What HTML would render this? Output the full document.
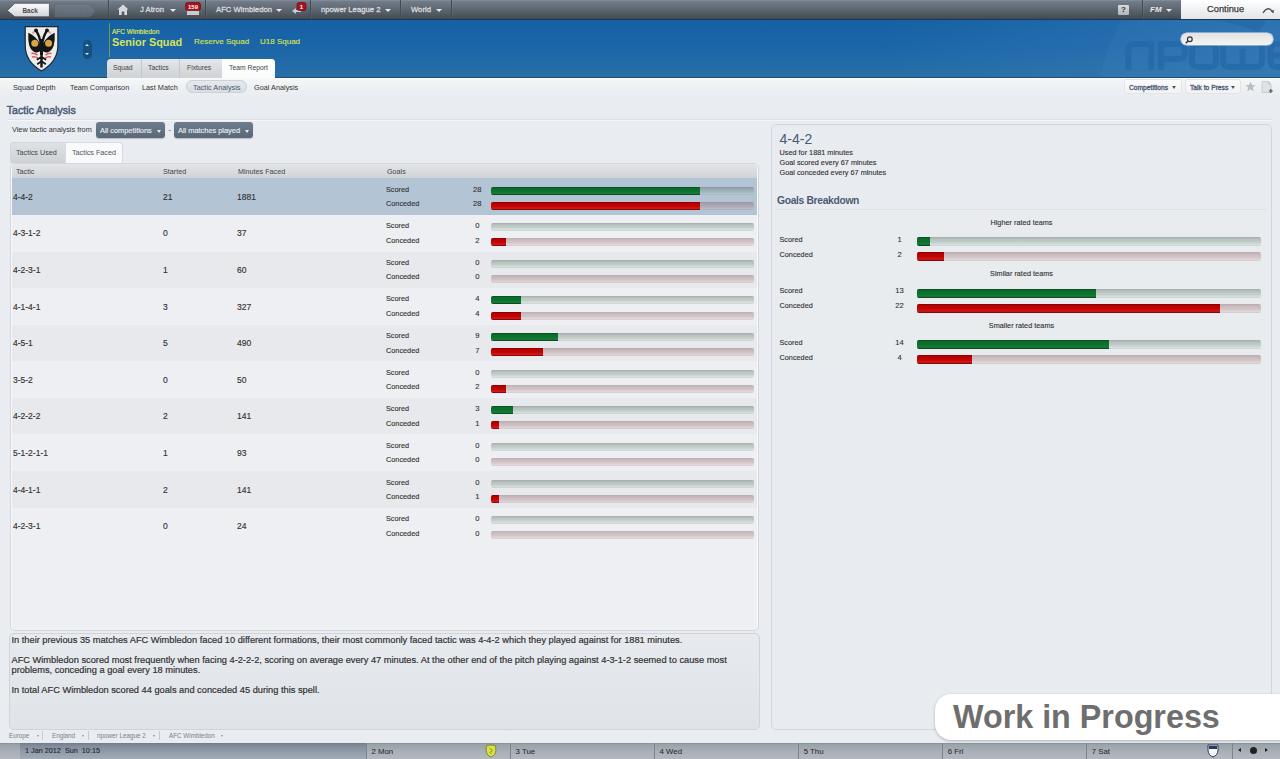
<!DOCTYPE html><html><head><meta charset="utf-8"><style>
*{margin:0;padding:0;box-sizing:border-box}
html,body{width:1280px;height:759px;overflow:hidden;background:#e9ecf0;font-family:"Liberation Sans",sans-serif;color:#333}
.a{position:absolute}
.t{position:absolute;white-space:nowrap;line-height:12px}
#top{left:0;top:0;width:1280px;height:20px;background:linear-gradient(#8994a0 0,#727c88 7%,#5f6873 45%,#49515a 88%,#424951 100%);border-bottom:1px solid #1b3850}
.sep{position:absolute;top:0;width:1px;height:19px;background:#434a52;box-shadow:1px 0 0 rgba(255,255,255,.05)}
.tb{color:#d9dbde;font-size:7.7px;-webkit-text-stroke:0.3px #d9dbde}
.tri{position:absolute;width:0;height:0;border-left:3px solid transparent;border-right:3px solid transparent;border-top:3px solid #e8e8e8}
#hdr{left:0;top:20px;width:1280px;height:58px;background:linear-gradient(#1561a3,#1c66a8 50%,#286fa7);border-bottom:1px solid #1f4d76}
#sub{left:0;top:78px;width:1280px;height:18px;background:linear-gradient(#fafdfe 0,#f3f5f7 10%,#eceff2 70%,#e9ecf0 100%)}
.sn{font-size:7.3px;color:#333}
.panel{position:absolute;border:1px solid #cfd3d8;border-radius:5px;background:#eaedf0}
.row{position:absolute;left:0;width:745px;height:37px}
.cell{position:absolute;white-space:nowrap;font-size:7.3px;line-height:10px;color:#333;-webkit-text-stroke:0.12px #333}
.bar{position:absolute;height:8px;border-radius:2px;overflow:hidden}
.bg{background:linear-gradient(rgba(80,90,90,.45) 0%,rgba(110,130,120,.4) 25%,rgba(120,150,135,.36) 55%,rgba(170,195,180,.3) 85%,rgba(140,150,150,.35) 100%)}
.br{background:linear-gradient(rgba(110,85,90,.42) 0%,rgba(150,105,108,.38) 25%,rgba(165,120,122,.35) 55%,rgba(205,165,168,.3) 85%,rgba(160,130,135,.35) 100%)}
.fg{position:absolute;left:0;top:0;height:100%;background:linear-gradient(#07451c 0%,#0b6a2a 16%,#0d7330 55%,#1a7d3a 80%,#053816 100%)}
.fr{position:absolute;left:0;top:0;height:100%;background:linear-gradient(#7e0000 0%,#b60000 18%,#c60303 55%,#d21a1a 80%,#6a0000 100%)}
#bot{left:0;top:743px;width:1280px;height:16px;background:linear-gradient(#858d95 0,#9aa2aa 10%,#a9b0b7 55%,#b3b8bf 100%)}
.day{position:absolute;top:743px;height:16px;border-left:1px solid #7d838a;font-size:7.8px;line-height:17.5px;padding-left:4.5px;color:#2a2a2a;-webkit-text-stroke:0.05px #2a2a2a}
</style></head><body>
<div id="top" class="a"></div>
<svg class="a" style="left:6px;top:1.6px" width="46" height="17" viewBox="0 0 46 17">
<defs><linearGradient id="gb" x1="0" y1="0" x2="0" y2="1"><stop offset="0" stop-color="#fdfdfd"/><stop offset="1" stop-color="#d0d3d7"/></linearGradient>
<linearGradient id="gf" x1="0" y1="0" x2="0" y2="1"><stop offset="0" stop-color="#6f7a86"/><stop offset="1" stop-color="#5c6671"/></linearGradient></defs>
<path d="M1.3 8.6 L8.8 1.3 H42.6 Q43.4 1.3 43.4 2.2 V14 Q43.4 14.8 42.6 14.8 H8.8 Z" fill="url(#gb)" stroke="#3e4248" stroke-width="0.7"/>
</svg>
<div class="t" style="left:22.5px;top:5px;font-size:6.4px;font-weight:bold;color:#4a4a4a">Back</div>
<svg class="a" style="left:53px;top:2px" width="46" height="17" viewBox="0 0 46 17">
<path d="M2.5 2 H36 Q37 2 38 3 L42.5 8.5 L38 14 Q37 15 36 15 H2.5 Q1.5 15 1.5 14 V3 Q1.5 2 2.5 2 Z" fill="url(#gf)" stroke="#58616b" stroke-width="0.5"/></svg>
<div class="t" style="left:60.5px;top:5px;font-size:6.4px;font-weight:bold;color:#6a7480">Forward</div>
<div class="sep" style="left:108px"></div>
<div class="sep" style="left:205px"></div>
<div class="sep" style="left:310px"></div>
<div class="sep" style="left:400px"></div>
<div class="sep" style="left:451px"></div>
<div class="sep" style="left:1142px"></div>
<svg class="a" style="left:117px;top:4px" width="12" height="12" viewBox="0 0 12 12"><path d="M6 0.5 L11.5 5.5 H10 V11 H7.3 V7.5 H4.7 V11 H2 V5.5 H0.5 Z" fill="#d6d8db"/></svg>
<div class="t tb" style="left:140px;top:4px">J Atron</div>
<div class="tri" style="left:170px;top:9px"></div>
<svg class="a" style="left:185px;top:2px" width="16" height="14" viewBox="0 0 16 14"><rect x="2" y="7" width="12" height="6" fill="#c9cbce"/><rect x="0.5" y="0.5" width="15" height="8" rx="2" fill="#a8121a" stroke="#5e0a0c" stroke-width="0.6"/><text x="8" y="7" font-size="6" font-weight="bold" fill="#fff" text-anchor="middle" font-family="Liberation Sans">159</text></svg>
<div class="t tb" style="left:216px;top:4px">AFC Wimbledon</div>
<div class="tri" style="left:276px;top:9px"></div>
<svg class="a" style="left:291px;top:2px" width="16" height="15" viewBox="0 0 16 15"><path d="M1 9 L5 6 V8 H10 V10 H5 V12 Z" fill="#c9cbce"/><rect x="6" y="0.5" width="9" height="8" rx="2" fill="#a8121a" stroke="#5e0a0c" stroke-width="0.6"/><text x="10.5" y="7" font-size="6" font-weight="bold" fill="#fff" text-anchor="middle" font-family="Liberation Sans">1</text></svg>
<div class="t tb" style="left:321px;top:4px">npower League 2</div>
<div class="tri" style="left:385px;top:9px"></div>
<div class="t tb" style="left:411px;top:4px">World</div>
<div class="tri" style="left:436px;top:9px"></div>
<div class="a" style="left:1118px;top:5px;width:11px;height:10px;background:linear-gradient(#d8dadc,#b2b5b9);border-radius:1px;font-size:8px;font-weight:bold;color:#333;text-align:center;line-height:10px">?</div>
<div class="t" style="left:1150px;top:4px;font-size:8px;font-weight:bold;font-style:italic;color:#e8e8e8">FM</div>
<div class="tri" style="left:1166px;top:9px"></div>
<div class="a" style="left:1181px;top:0;width:99px;height:19px;background:linear-gradient(#ffffff,#e3e5e8)"></div>
<div class="t" style="left:1207px;top:3px;font-size:9.3px;color:#3c3c3c;-webkit-text-stroke:0.25px #3c3c3c">Continue</div>
<svg class="a" style="left:1261px;top:5px" width="14" height="10" viewBox="0 0 14 10"><path d="M2 8 Q7 0 12 7" fill="none" stroke="#555" stroke-width="1.4"/><path d="M9.5 6 L12.5 8.5 L13 5 Z" fill="#555"/></svg>
<div id="hdr" class="a"></div>
<div class="a" style="left:650px;top:20px;width:630px;height:57px;background:radial-gradient(ellipse 400px 120px at 100% 30%,rgba(80,140,200,.35),rgba(80,140,200,0))"></div>
<svg class="a" style="left:1080px;top:20px" width="200" height="57" viewBox="0 0 200 57">
<circle cx="220" cy="100" r="204.6" fill="rgba(120,170,220,0.07)"/>
<g fill="none" stroke="#1f62a3" stroke-opacity="0.55" stroke-width="5.8" stroke-linejoin="round">
<path d="M48.3 50 V30 Q48.3 24.1 54.5 24.1 H71.2 V50"/>
<path d="M81 50 V24.1 H98.5 Q104.8 24.1 104.8 30.5 V32.5 Q104.8 39 98.5 39 H81"/>
<path d="M118 24.1 H130 Q136 24.1 136 30.5 V40.5 Q136 47 130 47 H118 Q112 47 112 40.5 V30.5 Q112 24.1 118 24.1 Z"/>
<path d="M143 21 V40.5 Q143 47 149.5 47 H175.5 Q182 47 182 40.5 V21 M162.5 29 V47"/>
<path d="M190.5 35.5 H214 V30.5 Q214 24.1 207.5 24.1 H197 Q190.5 24.1 190.5 30.5 V40.5 Q190.5 47 197 47 H214"/>
</g>
<path d="M136 0 Q160 4 178 12 L186 3 L184 0 Z" fill="#1f62a3" fill-opacity="0.45"/>
</svg>
<div class="a" style="left:1181px;top:33.3px;width:92px;height:12px;border-radius:6px;background:linear-gradient(#e2e2e2,#f4f4f4);box-shadow:0 0 0 0.6px #dfe5ea"></div>
<svg class="a" style="left:1184px;top:35px" width="10" height="10" viewBox="0 0 10 10"><circle cx="5.8" cy="4.2" r="2.4" fill="none" stroke="#333" stroke-width="1.2"/><path d="M4 6 L1.8 8.3" stroke="#333" stroke-width="1.5"/></svg>
<svg class="a" style="left:20px;top:22px" width="44" height="52" viewBox="0 0 44 52">
<path d="M5.2 4.6 H37.9 V23.5 Q37.9 39.5 21.5 49 Q5.2 39.5 5.2 23.5 Z" fill="#ececeb" stroke="#1b2838" stroke-width="1.2"/>
<path d="M12.5 11.5 Q14 8.5 17 9.5 M30.5 11.5 Q29 8.5 26 9.5" stroke="#d9a0a0" stroke-width="1.8" fill="none"/>
<path d="M20.8 21 Q19.5 14 16.3 8.6 M22.2 21 Q23.5 14 26.7 8.6" stroke="#151515" stroke-width="2.4" fill="none"/>
<circle cx="16" cy="8.3" r="1.9" fill="#151515"/><circle cx="27" cy="8.3" r="1.9" fill="#151515"/>
<path d="M20.5 22 Q15 13.5 8.3 10.8 Q7.8 18 9.3 23.5 Q11 28.8 15 30.2 Q18 31 20.5 29 Z" fill="#151515"/>
<path d="M22.5 22 Q28 13.5 34.7 10.8 Q35.2 18 33.7 23.5 Q32 28.8 28 30.2 Q25 31 22.5 29 Z" fill="#151515"/>
<rect x="20" y="17" width="3" height="16" fill="#151515"/>
<circle cx="14.8" cy="21.2" r="3.5" fill="#d4a646"/><circle cx="28.6" cy="21.2" r="3.5" fill="#d4a646"/>
<path d="M11.5 31.5 Q14.5 30.8 17.5 33.2 M12 35 Q15 34 18 36.2 M31.5 31.5 Q28.5 30.8 25.5 33.2 M31 35 Q28 34 25 36.2" stroke="#d86060" stroke-width="1.5" fill="none"/>
<path d="M21.5 30 V45.5" stroke="#151515" stroke-width="2.4"/>
<path d="M21.5 35 L16.8 37.8 M21.5 35 L26.2 37.8 M21.5 39.2 L17.2 42.3 M21.5 39.2 L25.8 42.3" stroke="#151515" stroke-width="1.7"/>
</svg>
<div class="a" style="left:83px;top:40px;width:9px;height:18.5px;border-radius:4.5px;background:#16507f"></div>
<div class="a" style="left:85px;top:43.8px;width:0;height:0;border-left:2.5px solid transparent;border-right:2.5px solid transparent;border-bottom:2.5px solid #cfe6f8"></div>
<div class="a" style="left:85px;top:52.6px;width:0;height:0;border-left:2.5px solid transparent;border-right:2.5px solid transparent;border-top:2.5px solid #cfe6f8"></div>
<div class="a" style="left:108.5px;top:23px;width:1px;height:34px;background:#6b9a55"></div>
<div class="t" style="left:112px;top:26.6px;font-size:6.5px;line-height:10px;color:#d6e35a;-webkit-text-stroke:0.2px #d6e35a">AFC Wimbledon</div>
<div class="t" style="left:112px;top:35.3px;font-size:10.9px;line-height:14px;font-weight:bold;color:#d6e35a">Senior Squad</div>
<div class="t" style="left:194px;top:36px;font-size:8px;line-height:11px;color:#d4e04e;-webkit-text-stroke:0.15px #d4e04e">Reserve Squad</div>
<div class="t" style="left:260px;top:36px;font-size:8px;line-height:11px;color:#d4e04e;-webkit-text-stroke:0.15px #d4e04e">U18 Squad</div>
<div class="a" style="left:107px;top:59px;width:168px;height:19px;border-radius:4px 4px 0 0;background:linear-gradient(#e4e6e9,#cfd2d6)"></div>
<div class="a" style="left:222px;top:59px;width:53px;height:20px;border-radius:0 4px 0 0;background:linear-gradient(#ffffff,#fafbfb)"></div>
<div class="a" style="left:141px;top:59px;width:1px;height:19px;background:#c4c7cb"></div>
<div class="a" style="left:179px;top:59px;width:1px;height:19px;background:#c4c7cb"></div>
<div class="t" style="left:113px;top:62px;font-size:6.8px;color:#444">Squad</div>
<div class="t" style="left:148px;top:62px;font-size:6.8px;color:#444">Tactics</div>
<div class="t" style="left:187px;top:62px;font-size:6.8px;color:#444">Fixtures</div>
<div class="t" style="left:229px;top:62px;font-size:6.8px;color:#444">Team Report</div>
<div id="sub" class="a"></div>
<div class="a" style="left:186px;top:80px;width:61px;height:13px;border-radius:7px;background:linear-gradient(#e6e9ed,#d9dde2);box-shadow:inset 0 0 0 1px #cdd2d8"></div>
<div class="t sn" style="left:13px;top:82px;color:#333">Squad Depth</div>
<div class="t sn" style="left:70px;top:82px;color:#333">Team Comparison</div>
<div class="t sn" style="left:142px;top:82px;color:#333">Last Match</div>
<div class="t sn" style="left:193px;top:82px;color:#4a5870">Tactic Analysis</div>
<div class="t sn" style="left:254px;top:82px;color:#333">Goal Analysis</div>
<div class="a" style="left:1125px;top:80px;width:56px;height:13px;border-radius:2px;background:linear-gradient(#fbfbfc,#f0f2f4);box-shadow:0 0 0 1px #e2e5e8"></div>
<div class="t" style="left:1129px;top:81.8px;font-size:6.7px;color:#4a5870;-webkit-text-stroke:0.3px #4a5870">Competitions</div>
<div class="a" style="left:1172px;top:86px;width:0;height:0;border-left:2.5px solid transparent;border-right:2.5px solid transparent;border-top:3px solid #555"></div>
<div class="a" style="left:1186px;top:80px;width:54px;height:13px;border-radius:2px;background:linear-gradient(#fbfbfc,#f0f2f4);box-shadow:0 0 0 1px #e2e5e8"></div>
<div class="t" style="left:1190px;top:81.8px;font-size:6.7px;color:#4a5870;-webkit-text-stroke:0.3px #4a5870">Talk to Press</div>
<div class="a" style="left:1231px;top:86px;width:0;height:0;border-left:2.5px solid transparent;border-right:2.5px solid transparent;border-top:3px solid #555"></div>
<svg class="a" style="left:1245px;top:81px" width="11" height="11" viewBox="0 0 13 13"><path d="M6.5 0.6 L8.2 4.6 L12.5 4.9 L9.2 7.7 L10.2 12 L6.5 9.7 L2.8 12 L3.8 7.7 L0.5 4.9 L4.8 4.6 Z" fill="#b9bdc3"/></svg>
<svg class="a" style="left:1261px;top:81px" width="13" height="13" viewBox="0 0 13 13"><path d="M1 0.5 H7.5 L10 3 V11.5 H1 Z" fill="#dfe2e6" stroke="#bfc3c8" stroke-width="0.8"/><path d="M7.5 0.5 V3 H10" fill="#c9cdd2" stroke="#bfc3c8" stroke-width="0.6"/><path d="M9.8 8 V12 M7.8 10 H11.8" stroke="#555" stroke-width="1.2"/></svg>
<div class="t" style="left:6.8px;top:104.2px;font-size:10.6px;color:#4a5a76;-webkit-text-stroke:0.45px #4a5a76">Tactic Analysis</div>
<div class="a" style="left:8px;top:119px;width:1264px;height:1px;background:#dcdfe3;box-shadow:0 1px 0 #f5f6f8"></div>
<div class="t sn" style="left:12px;top:124px">View tactic analysis from</div>
<div class="a" style="left:96px;top:122px;width:69px;height:16px;border-radius:3px;background:linear-gradient(#6e7d8e,#596777);box-shadow:0 1px 1px rgba(0,0,0,.2)"></div>
<div class="t" style="left:100px;top:124.9px;font-size:7.4px;color:#e8ecf0;-webkit-text-stroke:0.15px #e8ecf0">All competitions</div>
<div class="a" style="left:157px;top:129.6px;width:0;height:0;border-left:2.5px solid transparent;border-right:2.5px solid transparent;border-top:3px solid #e8eaee"></div>
<div class="a" style="left:174px;top:122px;width:79px;height:16px;border-radius:3px;background:linear-gradient(#6e7d8e,#596777);box-shadow:0 1px 1px rgba(0,0,0,.2)"></div>
<div class="t" style="left:178px;top:124.9px;font-size:7.4px;color:#e8ecf0;-webkit-text-stroke:0.15px #e8ecf0">All matches played</div>
<div class="a" style="left:245px;top:129.6px;width:0;height:0;border-left:2.5px solid transparent;border-right:2.5px solid transparent;border-top:3px solid #e8eaee"></div>
<div class="t sn" style="left:168.5px;top:124px">-</div>
<div class="a" style="left:10px;top:142px;width:113px;height:21px;border-radius:4px 4px 0 0;border:1px solid #d2d6da;border-bottom:none;background:linear-gradient(#dfe2e5,#cdd1d5)"></div>
<div class="a" style="left:65px;top:142px;width:58px;height:22px;border-radius:0 4px 0 0;border:1px solid #d8dbdf;border-bottom:none;background:#f9fafb"></div>
<div class="t" style="left:16px;top:146.7px;font-size:7.2px;color:#444">Tactics Used</div>
<div class="t" style="left:72px;top:146.7px;font-size:7.2px;color:#555">Tactics Faced</div>
<div class="panel" style="left:10px;top:163px;width:749px;height:468px;background:#edeff2;border-color:#d3d7db;box-shadow:inset 1px 0 0 #f8f9fa,inset -1px 0 0 #f8f9fa"></div>
<div class="a" style="left:12px;top:164px;width:745px;height:14px;border-radius:4px 4px 0 0;background:linear-gradient(#e3e5e8,#d0d3d7)"></div>
<div class="t" style="left:16px;top:167px;font-size:7.2px;line-height:10px;color:#444">Tactic</div>
<div class="t" style="left:163px;top:167px;font-size:7.2px;line-height:10px;color:#444">Started</div>
<div class="t" style="left:238px;top:167px;font-size:7.2px;line-height:10px;color:#444">Minutes Faced</div>
<div class="t" style="left:387px;top:167px;font-size:7.2px;line-height:10px;color:#444">Goals</div>
<div class="a" style="left:12px;top:178px;width:745px;height:37px;background:#b3c5d5"></div>
<div class="cell" style="left:13px;top:191.7px;font-size:8.5px;color:#333;-webkit-text-stroke:0.15px #333">4-4-2</div>
<div class="cell" style="left:163px;top:191.7px;font-size:8.5px;color:#333;-webkit-text-stroke:0.15px #333">21</div>
<div class="cell" style="left:237px;top:191.7px;font-size:8.5px;color:#333;-webkit-text-stroke:0.15px #333">1881</div>
<div class="cell" style="left:386px;top:184.5px">Scored</div>
<div class="cell" style="left:386px;top:199.1px">Conceded</div>
<div class="cell" style="left:457.3px;width:40px;text-align:center;font-size:7.6px;top:184.5px">28</div>
<div class="cell" style="left:457.3px;width:40px;text-align:center;font-size:7.6px;top:199.1px">28</div>
<div class="bar bg" style="left:491px;top:186.5px;width:262.8px"><div class="fg" style="width:209.0px"></div></div>
<div class="bar br" style="left:491px;top:201.7px;width:262.8px"><div class="fr" style="width:209.0px"></div></div>
<div class="a" style="left:12px;top:215px;width:745px;height:36px;background:#edeff2"></div>
<div class="cell" style="left:13px;top:228.3px;font-size:8.5px;color:#333;-webkit-text-stroke:0.15px #333">4-3-1-2</div>
<div class="cell" style="left:163px;top:228.3px;font-size:8.5px;color:#333;-webkit-text-stroke:0.15px #333">0</div>
<div class="cell" style="left:237px;top:228.3px;font-size:8.5px;color:#333;-webkit-text-stroke:0.15px #333">37</div>
<div class="cell" style="left:386px;top:221.1px">Scored</div>
<div class="cell" style="left:386px;top:235.7px">Conceded</div>
<div class="cell" style="left:457.3px;width:40px;text-align:center;font-size:7.6px;top:221.1px">0</div>
<div class="cell" style="left:457.3px;width:40px;text-align:center;font-size:7.6px;top:235.7px">2</div>
<div class="bar bg" style="left:491px;top:223.1px;width:262.8px"><div class="fg" style="width:0.0px"></div></div>
<div class="bar br" style="left:491px;top:238.3px;width:262.8px"><div class="fr" style="width:14.9px"></div></div>
<div class="a" style="left:12px;top:252px;width:745px;height:36px;background:#e7e9ec"></div>
<div class="cell" style="left:13px;top:265.0px;font-size:8.5px;color:#333;-webkit-text-stroke:0.15px #333">4-2-3-1</div>
<div class="cell" style="left:163px;top:265.0px;font-size:8.5px;color:#333;-webkit-text-stroke:0.15px #333">1</div>
<div class="cell" style="left:237px;top:265.0px;font-size:8.5px;color:#333;-webkit-text-stroke:0.15px #333">60</div>
<div class="cell" style="left:386px;top:257.7px">Scored</div>
<div class="cell" style="left:386px;top:272.3px">Conceded</div>
<div class="cell" style="left:457.3px;width:40px;text-align:center;font-size:7.6px;top:257.7px">0</div>
<div class="cell" style="left:457.3px;width:40px;text-align:center;font-size:7.6px;top:272.3px">0</div>
<div class="bar bg" style="left:491px;top:259.7px;width:262.8px"><div class="fg" style="width:0.0px"></div></div>
<div class="bar br" style="left:491px;top:274.9px;width:262.8px"><div class="fr" style="width:0.0px"></div></div>
<div class="a" style="left:12px;top:288px;width:745px;height:36px;background:#edeff2"></div>
<div class="cell" style="left:13px;top:301.6px;font-size:8.5px;color:#333;-webkit-text-stroke:0.15px #333">4-1-4-1</div>
<div class="cell" style="left:163px;top:301.6px;font-size:8.5px;color:#333;-webkit-text-stroke:0.15px #333">3</div>
<div class="cell" style="left:237px;top:301.6px;font-size:8.5px;color:#333;-webkit-text-stroke:0.15px #333">327</div>
<div class="cell" style="left:386px;top:294.4px">Scored</div>
<div class="cell" style="left:386px;top:309.0px">Conceded</div>
<div class="cell" style="left:457.3px;width:40px;text-align:center;font-size:7.6px;top:294.4px">4</div>
<div class="cell" style="left:457.3px;width:40px;text-align:center;font-size:7.6px;top:309.0px">4</div>
<div class="bar bg" style="left:491px;top:296.4px;width:262.8px"><div class="fg" style="width:29.9px"></div></div>
<div class="bar br" style="left:491px;top:311.6px;width:262.8px"><div class="fr" style="width:29.9px"></div></div>
<div class="a" style="left:12px;top:325px;width:745px;height:36px;background:#e7e9ec"></div>
<div class="cell" style="left:13px;top:338.2px;font-size:8.5px;color:#333;-webkit-text-stroke:0.15px #333">4-5-1</div>
<div class="cell" style="left:163px;top:338.2px;font-size:8.5px;color:#333;-webkit-text-stroke:0.15px #333">5</div>
<div class="cell" style="left:237px;top:338.2px;font-size:8.5px;color:#333;-webkit-text-stroke:0.15px #333">490</div>
<div class="cell" style="left:386px;top:331.0px">Scored</div>
<div class="cell" style="left:386px;top:345.6px">Conceded</div>
<div class="cell" style="left:457.3px;width:40px;text-align:center;font-size:7.6px;top:331.0px">9</div>
<div class="cell" style="left:457.3px;width:40px;text-align:center;font-size:7.6px;top:345.6px">7</div>
<div class="bar bg" style="left:491px;top:333.0px;width:262.8px"><div class="fg" style="width:67.2px"></div></div>
<div class="bar br" style="left:491px;top:348.2px;width:262.8px"><div class="fr" style="width:52.3px"></div></div>
<div class="a" style="left:12px;top:361px;width:745px;height:37px;background:#edeff2"></div>
<div class="cell" style="left:13px;top:374.8px;font-size:8.5px;color:#333;-webkit-text-stroke:0.15px #333">3-5-2</div>
<div class="cell" style="left:163px;top:374.8px;font-size:8.5px;color:#333;-webkit-text-stroke:0.15px #333">0</div>
<div class="cell" style="left:237px;top:374.8px;font-size:8.5px;color:#333;-webkit-text-stroke:0.15px #333">50</div>
<div class="cell" style="left:386px;top:367.6px">Scored</div>
<div class="cell" style="left:386px;top:382.2px">Conceded</div>
<div class="cell" style="left:457.3px;width:40px;text-align:center;font-size:7.6px;top:367.6px">0</div>
<div class="cell" style="left:457.3px;width:40px;text-align:center;font-size:7.6px;top:382.2px">2</div>
<div class="bar bg" style="left:491px;top:369.6px;width:262.8px"><div class="fg" style="width:0.0px"></div></div>
<div class="bar br" style="left:491px;top:384.8px;width:262.8px"><div class="fr" style="width:14.9px"></div></div>
<div class="a" style="left:12px;top:398px;width:745px;height:36px;background:#e7e9ec"></div>
<div class="cell" style="left:13px;top:411.4px;font-size:8.5px;color:#333;-webkit-text-stroke:0.15px #333">4-2-2-2</div>
<div class="cell" style="left:163px;top:411.4px;font-size:8.5px;color:#333;-webkit-text-stroke:0.15px #333">2</div>
<div class="cell" style="left:237px;top:411.4px;font-size:8.5px;color:#333;-webkit-text-stroke:0.15px #333">141</div>
<div class="cell" style="left:386px;top:404.2px">Scored</div>
<div class="cell" style="left:386px;top:418.8px">Conceded</div>
<div class="cell" style="left:457.3px;width:40px;text-align:center;font-size:7.6px;top:404.2px">3</div>
<div class="cell" style="left:457.3px;width:40px;text-align:center;font-size:7.6px;top:418.8px">1</div>
<div class="bar bg" style="left:491px;top:406.2px;width:262.8px"><div class="fg" style="width:22.4px"></div></div>
<div class="bar br" style="left:491px;top:421.4px;width:262.8px"><div class="fr" style="width:7.5px"></div></div>
<div class="a" style="left:12px;top:435px;width:745px;height:36px;background:#edeff2"></div>
<div class="cell" style="left:13px;top:448.1px;font-size:8.5px;color:#333;-webkit-text-stroke:0.15px #333">5-1-2-1-1</div>
<div class="cell" style="left:163px;top:448.1px;font-size:8.5px;color:#333;-webkit-text-stroke:0.15px #333">1</div>
<div class="cell" style="left:237px;top:448.1px;font-size:8.5px;color:#333;-webkit-text-stroke:0.15px #333">93</div>
<div class="cell" style="left:386px;top:440.8px">Scored</div>
<div class="cell" style="left:386px;top:455.4px">Conceded</div>
<div class="cell" style="left:457.3px;width:40px;text-align:center;font-size:7.6px;top:440.8px">0</div>
<div class="cell" style="left:457.3px;width:40px;text-align:center;font-size:7.6px;top:455.4px">0</div>
<div class="bar bg" style="left:491px;top:442.8px;width:262.8px"><div class="fg" style="width:0.0px"></div></div>
<div class="bar br" style="left:491px;top:458.0px;width:262.8px"><div class="fr" style="width:0.0px"></div></div>
<div class="a" style="left:12px;top:471px;width:745px;height:37px;background:#e7e9ec"></div>
<div class="cell" style="left:13px;top:484.7px;font-size:8.5px;color:#333;-webkit-text-stroke:0.15px #333">4-4-1-1</div>
<div class="cell" style="left:163px;top:484.7px;font-size:8.5px;color:#333;-webkit-text-stroke:0.15px #333">2</div>
<div class="cell" style="left:237px;top:484.7px;font-size:8.5px;color:#333;-webkit-text-stroke:0.15px #333">141</div>
<div class="cell" style="left:386px;top:477.5px">Scored</div>
<div class="cell" style="left:386px;top:492.1px">Conceded</div>
<div class="cell" style="left:457.3px;width:40px;text-align:center;font-size:7.6px;top:477.5px">0</div>
<div class="cell" style="left:457.3px;width:40px;text-align:center;font-size:7.6px;top:492.1px">1</div>
<div class="bar bg" style="left:491px;top:479.5px;width:262.8px"><div class="fg" style="width:0.0px"></div></div>
<div class="bar br" style="left:491px;top:494.7px;width:262.8px"><div class="fr" style="width:7.5px"></div></div>
<div class="a" style="left:12px;top:508px;width:745px;height:36px;background:#edeff2"></div>
<div class="cell" style="left:13px;top:521.3px;font-size:8.5px;color:#333;-webkit-text-stroke:0.15px #333">4-2-3-1</div>
<div class="cell" style="left:163px;top:521.3px;font-size:8.5px;color:#333;-webkit-text-stroke:0.15px #333">0</div>
<div class="cell" style="left:237px;top:521.3px;font-size:8.5px;color:#333;-webkit-text-stroke:0.15px #333">24</div>
<div class="cell" style="left:386px;top:514.1px">Scored</div>
<div class="cell" style="left:386px;top:528.7px">Conceded</div>
<div class="cell" style="left:457.3px;width:40px;text-align:center;font-size:7.6px;top:514.1px">0</div>
<div class="cell" style="left:457.3px;width:40px;text-align:center;font-size:7.6px;top:528.7px">0</div>
<div class="bar bg" style="left:491px;top:516.1px;width:262.8px"><div class="fg" style="width:0.0px"></div></div>
<div class="bar br" style="left:491px;top:531.3px;width:262.8px"><div class="fr" style="width:0.0px"></div></div>
<div class="panel" style="left:9px;top:633px;width:751px;height:97px;background:linear-gradient(#e7eaee,#dfe4e8);border-color:#d0d4d9"></div>
<div class="t" style="left:11.5px;top:634.5px;font-size:9.25px;line-height:10px;color:#333;-webkit-text-stroke:0.2px #333">In their previous 35 matches AFC Wimbledon faced 10 different formations, their most commonly faced tactic was 4-4-2 which they played against for 1881 minutes.</div>
<div class="t" style="left:11.5px;top:655px;font-size:9.25px;line-height:10px;color:#333;-webkit-text-stroke:0.2px #333">AFC Wimbledon scored most frequently when facing 4-2-2-2, scoring on average every 47 minutes. At the other end of the pitch playing against 4-3-1-2 seemed to cause most</div>
<div class="t" style="left:11.5px;top:664.5px;font-size:9.25px;line-height:10px;color:#333;-webkit-text-stroke:0.2px #333">problems, conceding a goal every 18 minutes.</div>
<div class="t" style="left:11.5px;top:684.5px;font-size:9.25px;line-height:10px;color:#333;-webkit-text-stroke:0.2px #333">In total AFC Wimbledon scored 44 goals and conceded 45 during this spell.</div>
<div class="t" style="left:9px;top:730.5px;font-size:6.3px;line-height:10px;color:#7a7f86">Europe</div>
<div class="t" style="left:52px;top:730.5px;font-size:6.3px;line-height:10px;color:#7a7f86">England</div>
<div class="t" style="left:97px;top:730.5px;font-size:6.3px;line-height:10px;color:#7a7f86">npower League 2</div>
<div class="t" style="left:169px;top:730.5px;font-size:6.3px;line-height:10px;color:#7a7f86">AFC Wimbledon</div>
<div class="a" style="left:36.5px;top:735px;width:0;height:0;border-left:1.5px solid transparent;border-right:1.5px solid transparent;border-top:2px solid #8a8f96"></div>
<div class="a" style="left:81.5px;top:735px;width:0;height:0;border-left:1.5px solid transparent;border-right:1.5px solid transparent;border-top:2px solid #8a8f96"></div>
<div class="a" style="left:152.5px;top:735px;width:0;height:0;border-left:1.5px solid transparent;border-right:1.5px solid transparent;border-top:2px solid #8a8f96"></div>
<div class="a" style="left:221px;top:735px;width:0;height:0;border-left:1.5px solid transparent;border-right:1.5px solid transparent;border-top:2px solid #8a8f96"></div>
<div class="a" style="left:42px;top:731px;width:1px;height:9px;background:#c5c9ce"></div>
<div class="a" style="left:88px;top:731px;width:1px;height:9px;background:#c5c9ce"></div>
<div class="a" style="left:159px;top:731px;width:1px;height:9px;background:#c5c9ce"></div>
<div class="panel" style="left:771px;top:124px;width:501px;height:606px;background:#e8ebef;border-color:#d3d7db"></div>
<div class="t" style="left:779.5px;top:130.8px;font-size:14px;line-height:16px;color:#4a5a76">4-4-2</div>
<div class="cell" style="left:779.5px;top:148px">Used for 1881 minutes</div>
<div class="cell" style="left:779.5px;top:158px">Goal scored every 67 minutes</div>
<div class="cell" style="left:779.5px;top:168px">Goal conceded every 67 minutes</div>
<div class="t" style="left:777px;top:195.1px;font-size:10.3px;font-weight:bold;letter-spacing:-0.33px;color:#4d5b74">Goals Breakdown</div>
<div class="a" style="left:776px;top:209px;width:490px;height:1px;background:#dde1e5"></div>
<div class="a" style="left:776px;top:210px;width:490px;height:160px;background:#e9ecef"></div>
<div class="cell" style="left:771px;width:501px;text-align:center;top:217.7px">Higher rated teams</div>
<div class="cell" style="left:779.5px;top:234.5px">Scored</div>
<div class="cell" style="left:779.5px;top:249.6px">Conceded</div>
<div class="cell" style="left:879.5px;width:40px;text-align:center;font-size:7.6px;top:234.5px">1</div>
<div class="cell" style="left:879.5px;width:40px;text-align:center;font-size:7.6px;top:249.6px">2</div>
<div class="bar bg" style="left:916.5px;top:237.0px;height:9px;width:344.5px"><div class="fg" style="width:13.8px"></div></div>
<div class="bar br" style="left:916.5px;top:252.1px;height:9px;width:344.5px"><div class="fr" style="width:27.6px"></div></div>
<div class="cell" style="left:771px;width:501px;text-align:center;top:269.2px">Similar rated teams</div>
<div class="cell" style="left:779.5px;top:286.0px">Scored</div>
<div class="cell" style="left:779.5px;top:301.1px">Conceded</div>
<div class="cell" style="left:879.5px;width:40px;text-align:center;font-size:7.6px;top:286.0px">13</div>
<div class="cell" style="left:879.5px;width:40px;text-align:center;font-size:7.6px;top:301.1px">22</div>
<div class="bar bg" style="left:916.5px;top:288.5px;height:9px;width:344.5px"><div class="fg" style="width:179.1px"></div></div>
<div class="bar br" style="left:916.5px;top:303.6px;height:9px;width:344.5px"><div class="fr" style="width:303.2px"></div></div>
<div class="cell" style="left:771px;width:501px;text-align:center;top:320.7px">Smaller rated teams</div>
<div class="cell" style="left:779.5px;top:337.5px">Scored</div>
<div class="cell" style="left:779.5px;top:352.6px">Conceded</div>
<div class="cell" style="left:879.5px;width:40px;text-align:center;font-size:7.6px;top:337.5px">14</div>
<div class="cell" style="left:879.5px;width:40px;text-align:center;font-size:7.6px;top:352.6px">4</div>
<div class="bar bg" style="left:916.5px;top:340.0px;height:9px;width:344.5px"><div class="fg" style="width:192.9px"></div></div>
<div class="bar br" style="left:916.5px;top:355.1px;height:9px;width:344.5px"><div class="fr" style="width:55.1px"></div></div>
<div id="bot" class="a"></div>
<div class="a" style="left:20px;top:743px;width:346px;height:16px;background:linear-gradient(#6f7b8a 0,#7f8b99 15%,#929eab 60%,#a2abb6 100%)"></div>
<div class="t" style="left:25px;top:745px;font-size:7.25px;color:#1f2630;-webkit-text-stroke:0.1px #1f2630">1 Jan 2012&nbsp; Sun&nbsp; 10:15</div>
<div class="day" style="left:366.0px;width:144.05px">2 Mon</div>
<div class="day" style="left:510.1px;width:144.05px">3 Tue</div>
<div class="day" style="left:654.1px;width:144.05px">4 Wed</div>
<div class="day" style="left:798.2px;width:144.05px">5 Thu</div>
<div class="day" style="left:942.2px;width:144.05px">6 Fri</div>
<div class="day" style="left:1086.2px;width:144.05px">7 Sat</div>
<div class="a" style="left:1232px;top:743px;width:1px;height:16px;background:#7d838a"></div>
<svg class="a" style="left:485px;top:744px" width="12" height="14" viewBox="0 0 12 14"><path d="M1.5 1.5 Q6 0.5 10.5 1.5 Q11.5 7 10 10 Q8 12.5 6 13 Q4 12.5 2 10 Q0.5 7 1.5 1.5 Z" fill="#d6e04a" stroke="#7d8420" stroke-width="0.9"/><path d="M4.5 4 L7.5 6.5 L5 8.5 L6.5 10" stroke="#8a9020" stroke-width="1" fill="none"/></svg>
<svg class="a" style="left:1207px;top:744px" width="12" height="14" viewBox="0 0 12 14"><path d="M1 1 H11 V6 Q11 11 6 13 Q1 11 1 6 Z" fill="#f4f4f4" stroke="#2a3a5a" stroke-width="1"/><path d="M2 2 H10 V5 H2 Z" fill="#2a3a5a"/></svg>
<div class="a" style="left:1238px;top:748px;width:0;height:0;border-top:2.5px solid transparent;border-bottom:2.5px solid transparent;border-right:3px solid #222"></div>
<div class="a" style="left:1250px;top:747px;width:7px;height:7px;border-radius:50%;background:#222"></div>
<div class="a" style="left:1265px;top:748px;width:0;height:0;border-top:2.5px solid transparent;border-bottom:2.5px solid transparent;border-left:3px solid #222"></div>
<div class="a" style="left:935px;top:694px;width:360px;height:46px;border-radius:16px;background:#fff;box-shadow:0 1px 3px rgba(0,0,0,.25)"></div>
<div class="t" style="left:953px;top:697px;font-size:32.3px;line-height:40px;font-weight:bold;color:#6e6e6e;letter-spacing:0px">Work in Progress</div>
</body></html>
